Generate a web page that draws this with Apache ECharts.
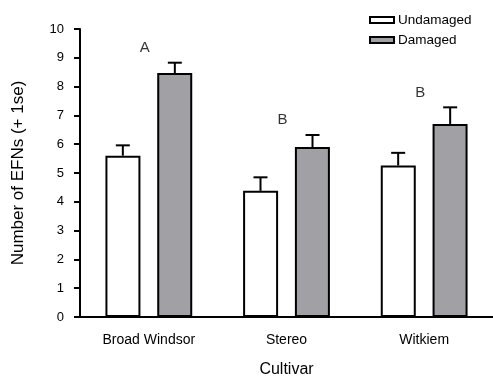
<!DOCTYPE html>
<html><head><meta charset="utf-8">
<script src="https://cdn.jsdelivr.net/npm/echarts@6/dist/echarts.min.js"></script>
<style>html,body{margin:0;padding:0;background:#fff}#c{width:493px;height:383px}</style>
</head><body><div id="c"></div>
<script>
const categories = ['Broad Windsor', 'Stereo', 'Witkiem'];
const undamaged = [5.6, 4.38, 5.26];
const undamagedSE = [0.36, 0.47, 0.44];
const damaged = [8.47, 5.9, 6.7];
const damagedSE = [0.36, 0.42, 0.58];
const letters = ['A', 'B', 'B'];
const letterY = [9.35, 6.85, 7.8];
const yTicks = [0,1,2,3,4,5,6,7,8,9,10];

const BAR_W = 35;
const OFFSET = 26;
const FONT = 'Liberation Sans, Arial, sans-serif';

function errRender(offset) {
  return function (params, api) {
    const idx = api.value(0);
    const top = api.coord([idx, api.value(1) + api.value(2)]);
    const base = api.coord([idx, api.value(1)]);
    const x = top[0] + offset;
    const style = { stroke: '#000', lineWidth: 2 };
    return {
      type: 'group',
      children: [
        { type: 'line', shape: { x1: x, y1: base[1], x2: x, y2: top[1] }, style },
        { type: 'line', shape: { x1: x - 7, y1: top[1], x2: x + 7, y2: top[1] }, style }
      ]
    };
  };
}

const chart = echarts.init(document.getElementById('c'), null, { renderer: 'canvas' });
chart.setOption({
  animation: false,
  backgroundColor: '#fff',
  textStyle: { fontFamily: FONT },
  grid: { left: 80, right: -13, top: 29, bottom: 65 },
  legend: {
    orient: 'vertical', left: 364, top: 8, itemWidth: 24, itemHeight: 6, itemGap: 6,
    textStyle: { fontSize: 13.5, color: '#000', fontFamily: FONT, padding: [0, 0, 0, -1] },
    data: [
      { name: 'Undamaged', icon: 'rect', itemStyle: { color: '#fff', borderColor: '#000', borderWidth: 2 } },
      { name: 'Damaged', icon: 'rect', itemStyle: { color: '#a1a0a5', borderColor: '#000', borderWidth: 2 } }
    ]
  },
  xAxis: {
    type: 'category', data: categories,
    name: 'Cultivar', nameLocation: 'middle', nameGap: 45,
    nameTextStyle: { fontSize: 16, color: '#000', fontFamily: FONT },
    axisLine: { lineStyle: { color: '#000', width: 2 } },
    axisTick: { show: false },
    axisLabel: { color: '#000', fontSize: 14, margin: 16, fontFamily: FONT }
  },
  yAxis: {
    type: 'value', min: 0, max: 10, interval: 1,
    name: 'Number of EFNs (+ 1se)', nameLocation: 'middle', nameGap: 53, nameRotate: 90,
    nameTextStyle: { fontSize: 17, color: '#000', fontFamily: FONT },
    axisLine: { show: true, lineStyle: { color: '#000', width: 2 } },
    axisTick: { show: true, length: 6, lineStyle: { color: '#000', width: 2 } },
    axisLabel: { color: '#000', fontSize: 13, margin: 16, fontFamily: FONT,
      formatter: v => yTicks.includes(v) ? String(v) : '' },
    splitLine: { show: false }
  },
  series: [
    { name: 'Undamaged', type: 'bar', data: undamaged, barWidth: BAR_W, barGap: '48%',
      itemStyle: { color: '#fff', borderColor: '#000', borderWidth: 2 }, z: 2 },
    { name: 'Damaged', type: 'bar', data: damaged, barWidth: BAR_W,
      itemStyle: { color: '#a1a0a5', borderColor: '#000', borderWidth: 2 }, z: 2 },
    { type: 'custom', renderItem: errRender(-OFFSET), z: 3,
      data: undamaged.map((v, i) => [i, v, undamagedSE[i]]) },
    { type: 'custom', renderItem: errRender(OFFSET), z: 3,
      data: damaged.map((v, i) => [i, v, damagedSE[i]]) },
    { type: 'scatter', symbolSize: 0, silent: true,
      data: letterY.map((v, i) => ({ value: [i, v], name: letters[i] })),
      label: { show: true, position: 'inside', offset: [-4, 0], formatter: p => p.name,
        fontSize: 15, color: '#000', fontFamily: FONT } }
  ]
});
</script></body></html>
